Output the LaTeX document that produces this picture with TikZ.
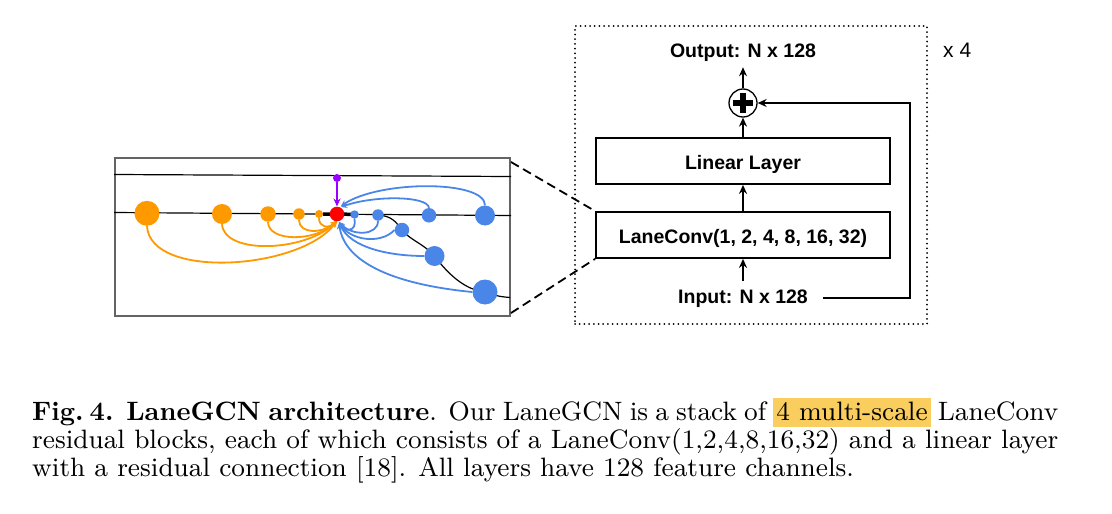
\documentclass[tikz,border=0pt]{standalone}
\usepackage{fontspec}
\usetikzlibrary{arrows.meta}
\newfontfamily\arialf{Liberation Sans}
\newfontfamily\capfam{lmroman9-regular.otf}[BoldFont=lmroman10-bold.otf]
\definecolor{orng}{RGB}{255,153,0}
\definecolor{blu}{RGB}{74,134,232}
\definecolor{purp}{RGB}{153,0,255}
\definecolor{hlc}{RGB}{250,205,95}
\definecolor{framegray}{RGB}{100,100,100}
\newcommand{\capfont}{\capfam\fontsize{26.6pt}{27.7pt}\selectfont}
\newcommand{\hlbox}[1]{{\setlength{\fboxsep}{0pt}\colorbox{hlc}{\rule[-7pt]{0pt}{29pt}\hspace{3pt}#1\hspace{3pt}}}}
\begin{document}
\begin{tikzpicture}[x=1pt,y=-1pt,
  ball/.style={circle, inner sep=0pt, minimum size=#1},
  oball/.style={ball=#1, fill=orng},
  bball/.style={ball=#1, fill=blu},
  oarc/.style={draw=orng, line width=1.8pt, -{Stealth[length=6pt,width=6pt]}},
  barc/.style={draw=blu, line width=1.8pt, -{Stealth[length=6pt,width=6pt]}},
  lane/.style={draw=black, line width=1.2pt},
  block/.style={draw, line width=1.8pt, minimum width=294pt, minimum height=46pt, inner sep=0pt,
    text height=19pt, text depth=3pt, font=\arialf\bfseries\fontsize{19.5pt}{22pt}\selectfont},
  lbl/.style={font=\arialf\bfseries\fontsize{19.5pt}{22pt}\selectfont, inner sep=0pt, anchor=base},
  flow/.style={line width=1.8pt, -{Stealth[length=9pt,width=8pt,inset=3pt]}},
  capline/.style={anchor=base west, inner sep=0pt, font=\capfont},
]
\path[use as bounding box] (0,0) rectangle (1112,514);

% ---------------- left panel: lane graph ----------------
\node[draw=framegray, line width=2pt, minimum width=395pt, minimum height=158pt, inner sep=0pt] (map) at (312.5,237) {};

\coordinate (po1) at (147,213.3);
\coordinate (po2) at (222,214);
\coordinate (po3) at (268,214);
\coordinate (po4) at (299,214);
\coordinate (po5) at (319,214);
\coordinate (pred) at (337,214);
\coordinate (pb1) at (354.5,214.5);
\coordinate (pb2) at (378,215);
\coordinate (pb3) at (429,215.3);
\coordinate (pb4) at (485,215.5);
\coordinate (pc1) at (402,230);
\coordinate (pc2) at (434.5,256);
\coordinate (pc3) at (485,292);
\coordinate (ppu) at (337,178);
\coordinate (laneend) at (510,297.5);

\draw[lane] (map.west |- 0,174.5) -- (map.east |- 0,176.5);
\draw[lane] (map.west |- 0,212.5) -- (map.east |- 0,215.5);
\draw[lane] (pb2) .. controls (392,216) and (396,222) .. (pc1)
            .. controls (410,240) and (424,244) .. (pc2)
            .. controls (448,274) and (465,290) .. (pc3)
            .. controls (495,296) and (503,297) .. (laneend);
\draw[line width=3.5pt] (323,214) -- (352,214.3);

\node[oball=25pt] (o1) at (po1) {};
\node[oball=20pt] (o2) at (po2) {};
\node[oball=15.5pt] (o3) at (po3) {};
\node[oball=11.5pt] (o4) at (po4) {};
\node[oball=8pt] (o5) at (po5) {};
\node[bball=8.5pt] (b1) at (pb1) {};
\node[bball=11.5pt] (b2) at (pb2) {};
\node[bball=14.5pt] (b3) at (pb3) {};
\node[bball=20pt] (b4) at (pb4) {};
\node[bball=14.5pt] (c1) at (pc1) {};
\node[bball=20pt] (c2) at (pc2) {};
\node[bball=25pt] (c3) at (pc3) {};
\node[ball=8pt, fill=purp] (pu) at (ppu) {};

% orange arcs
\draw[oarc] (o1.south) .. controls (150,280) and (300,270) .. (pred |- 0,221);
\draw[oarc] (o2.south) .. controls (224,255) and (305,252) .. (pred |- 0,221);
\draw[oarc] (o3.south) .. controls (268,242) and (315,242) .. (pred |- 0,221);
\draw[oarc] (o4.south) .. controls (299,234) and (322,234) .. (pred |- 0,221);
\draw[oarc] (o5.south) .. controls (319,227) and (328,229) .. (pred |- 0,221);

% blue arcs
\draw[barc] (b4.north) .. controls (485,180) and (380,180) .. (341,206);
\draw[barc] (b3.north) .. controls (428,196) and (375,195) .. (341,207);
\draw[barc] (b1.south) .. controls (357,232) and (345,232) .. (339,222);
\draw[barc] (b2.south) .. controls (378,236) and (352,236) .. (339,222);
\draw[barc] (c1.west) .. controls (380,245) and (350,240) .. (339,222);
\draw[barc] (c2.west) .. controls (390,256) and (350,248) .. (339,222);
\draw[barc] (c3.west) .. controls (400,285) and (345,265) .. (339,223);

\node[ball=14.6pt, fill=red] (red) at (pred) {};
\draw[purp, line width=1.8pt, -{Stealth[length=8pt,width=7pt]}] (pu) -- (red.north);

% ---------------- right panel: residual block ----------------
\node[draw, line width=2pt, line cap=round, dash pattern=on 0pt off 4.7pt,
      minimum width=352pt, minimum height=298pt, inner sep=0pt] (frame) at (751,175) {};
\node[font=\arialf\fontsize{21pt}{24pt}\selectfont, inner sep=0pt, anchor=base west] (x4) at (943,57) {x 4};

\node[lbl] (out) at (743,57) {Output: N x 128};
\node[circle, draw, line width=1.3pt, minimum size=28pt, inner sep=0pt] (plus) at (743,103) {};
\draw[line width=5.5pt] ([xshift=-10pt]plus.center) -- ([xshift=10pt]plus.center);
\draw[line width=5.5pt] ([yshift=-10pt]plus.center) -- ([yshift=10pt]plus.center);
\node[block] (lin) at (743,161) {Linear Layer};
\node[block] (lc) at (743,235) {LaneConv(1, 2, 4, 8, 16, 32)};
\node[lbl] (in) at (743,303) {Input: N x 128};
\coordinate (rc) at (910,103);

\draw[flow, shorten >=6pt] (plus.north) -- (out.south);
\draw[flow] (lin.north) -- (plus.south);
\draw[flow] (lc.north) -- (lin.south);
\draw[flow, shorten <=8pt] (in.north) -- (lc.south);
\draw[flow] ([xshift=15pt]in.east) -| (rc) -- (plus.east);

% zoom lines
\draw[line width=1.8pt, dash pattern=on 9pt off 5pt] ([yshift=-5pt]map.north east) -- (lc.north west);
\draw[line width=1.8pt, dash pattern=on 9pt off 5pt] ([yshift=4pt]map.south east) -- (lc.south west);

% ---------------- caption ----------------
\node[capline] (cap1) at (32,420) {\makebox[1026pt][s]{\textbf{Fig.\hspace{6pt}4. LaneGCN architecture}. Our LaneGCN is a stack of \hlbox{4 multi-scale} LaneConv}};
\node[capline] (cap2) at (32,448) {\makebox[1026pt][s]{residual blocks, each of which consists of a LaneConv(1,2,4,8,16,32) and a linear layer}};
\node[capline] (cap3) at (32,476) {with a residual connection [18]. All layers have 128 feature channels.};
\end{tikzpicture}
\end{document}
